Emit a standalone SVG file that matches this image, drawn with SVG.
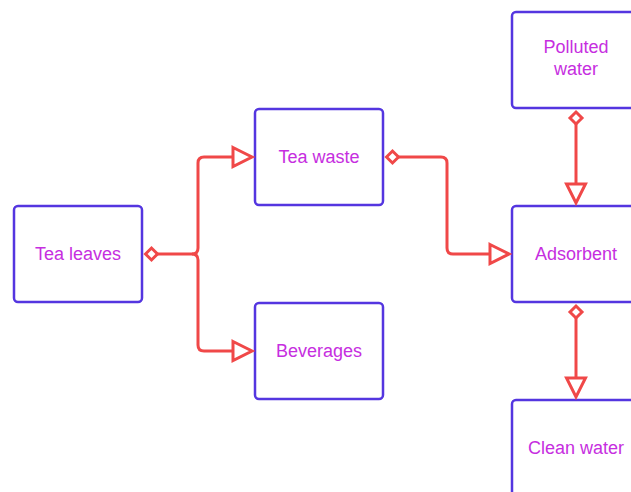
<svg xmlns="http://www.w3.org/2000/svg" width="631" height="492" viewBox="0 0 631 492">
<style>
.box{fill:#fff;stroke:#5436e0;stroke-width:2.5}
.lbl{font-family:"Liberation Sans",Arial,sans-serif;font-size:18px;fill:#c62ee0;text-anchor:middle}
.con{fill:none;stroke:#f04848;stroke-width:3;stroke-linejoin:round}
.dia{fill:#fff;stroke:#f04848;stroke-width:3}
.tri{fill:#fff;stroke:#f04848;stroke-width:3;stroke-linejoin:miter}
</style>
<rect width="631" height="492" fill="#fff"/>
<g id="tea-leaves"><rect class="box" x="14" y="206" width="128" height="96" rx="4"/><text class="lbl" x="78" y="260">Tea leaves</text></g>
<g id="tea-waste"><rect class="box" x="255" y="109" width="128" height="96" rx="4"/><text class="lbl" x="319" y="163">Tea waste</text></g>
<g id="beverages"><rect class="box" x="255" y="303" width="128" height="96" rx="4"/><text class="lbl" x="319" y="357">Beverages</text></g>
<g id="polluted-water"><rect class="box" x="512" y="12" width="128" height="96" rx="4"/><text class="lbl" x="576" y="53">Polluted</text><text class="lbl" x="576" y="75">water</text></g>
<g id="adsorbent"><rect class="box" x="512" y="206" width="128" height="96" rx="4"/><text class="lbl" x="576" y="260">Adsorbent</text></g>
<g id="clean-water"><rect class="box" x="512" y="400" width="128" height="96" rx="4"/><text class="lbl" x="576" y="454">Clean water</text></g>
<g id="connectors">
<path class="con" d="M157 254 H192 Q198 254 198 248 V163 Q198 157 204 157 H233"/>
<path class="con" d="M192 254 Q198 254 198 260 V345 Q198 351 204 351 H233"/>
<polygon class="dia" points="145.5,254 151.5,248 157.5,254 151.5,260"/>
<polygon class="tri" points="233,147.5 252,157 233,166.5"/>
<polygon class="tri" points="233,341.5 252,351 233,360.5"/>
<path class="con" d="M398 157 H441 Q447 157 447 163 V248 Q447 254 453 254 H490"/>
<polygon class="dia" points="386.5,157 392.5,151 398.5,157 392.5,163"/>
<polygon class="tri" points="490,244.5 509,254 490,263.5"/>
<path class="con" d="M576 124 V184"/>
<polygon class="dia" points="576,112 582,118 576,124 570,118"/>
<polygon class="tri" points="566.5,184 585.5,184 576,203"/>
<path class="con" d="M576 318 V378"/>
<polygon class="dia" points="576,306 582,312 576,318 570,312"/>
<polygon class="tri" points="566.5,378 585.5,378 576,397"/>
</g>
</svg>
